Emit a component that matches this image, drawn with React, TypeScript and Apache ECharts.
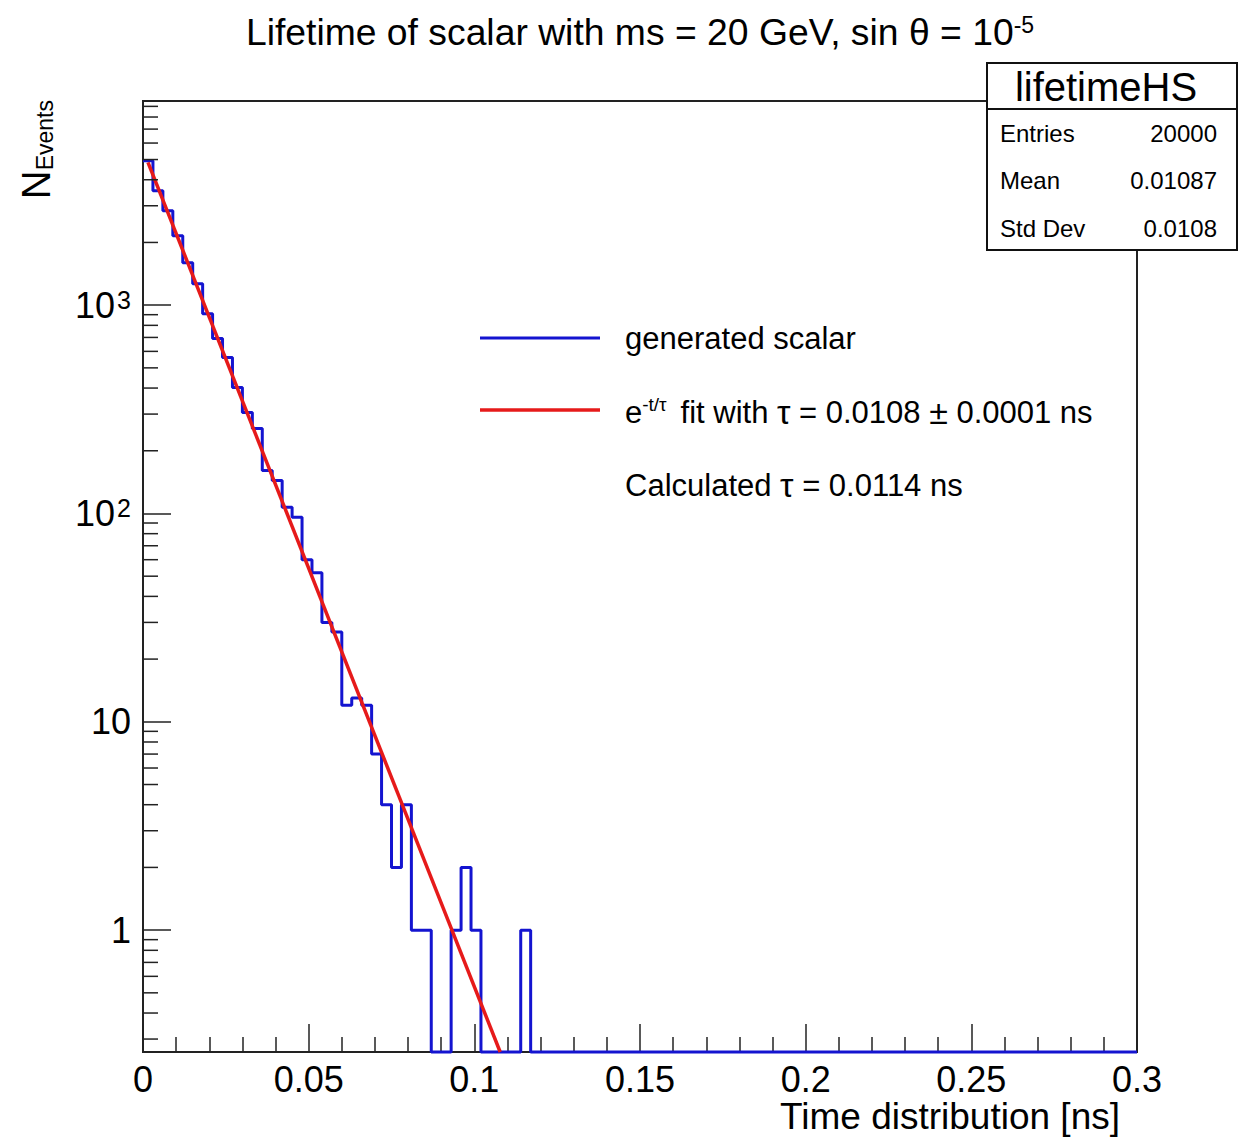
import React, { useEffect, useRef } from 'react';
import * as echarts from 'echarts';

// ---------------- data ----------------
const binWidth = 0.003; // 100 bins over [0, 0.3] ns
const counts = [
  4930, 3540, 2840, 2155, 1600, 1268, 910, 691, 560, 402,
  305, 256, 161, 144, 107, 96, 60, 52, 30, 27,
  12, 13, 12, 7, 4, 2, 4, 1, 1, 0,
  0, 1, 2, 1, 0, 0, 0, 0, 1, 0,
  0, 0, 0, 0, 0, 0, 0, 0, 0, 0,
  0, 0, 0, 0, 0, 0, 0, 0, 0, 0,
  0, 0, 0, 0, 0, 0, 0, 0, 0, 0,
  0, 0, 0, 0, 0, 0, 0, 0, 0, 0,
  0, 0, 0, 0, 0, 0, 0, 0, 0, 0,
  0, 0, 0, 0, 0, 0, 0, 0, 0, 0,
];
// exponential fit (straight on the log axis): end points
const fitT = [0.0015, 0.1078];
const fitN = [4850, 0.26];

const xMin = 0;
const xMax = 0.3;
const xInterval = 0.05;
const yMin = 0.26;
const yMax = 9550;

const statsTitle = 'lifetimeHS';
const statsLabels = ['Entries', 'Mean', 'Std Dev'];
const statsValues = ['20000', '0.01087', '0.0108'];

const FONT = '"Liberation Sans", Arial, Helvetica, sans-serif';
const BLUE = '#1414d0';
const RED = '#e61a1a';

export default function App() {
  const ref = useRef<HTMLDivElement>(null);

  useEffect(() => {
    const chart = echarts.init(ref.current as HTMLDivElement, null, { renderer: 'svg' });

    const histData: number[][] = counts.map((c, i) => [i * binWidth, c > 0 ? c : yMin]);
    const last = counts[counts.length - 1];
    histData.push([counts.length * binWidth, last > 0 ? last : yMin]);

    const fitData = fitT.map((t, i) => [t, fitN[i]]);

    const tok = (size: number, extra: any = {}) => ({
      fontSize: size,
      fontFamily: FONT,
      fill: '#000',
      color: '#000',
      ...extra,
    });

    const baseGraphic: any[] = [
      // title
      {
        type: 'text',
        x: 640,
        y: 32,
        z: 10,
        style: {
          text: '{m|Lifetime of scalar with ms = 20 GeV, sin θ = 10}{s|-5}',
          rich: { m: tok(37.3), s: tok(23, { verticalAlign: 'top' }) },
          align: 'center',
          textAlign: 'center',
          verticalAlign: 'middle',
          textVerticalAlign: 'middle',
        },
      },
      // y axis title
      {
        type: 'text',
        x: 36,
        y: 100,
        rotation: Math.PI / 2,
        z: 10,
        style: {
          text: '{m|N}{s|Events}',
          rich: { m: tok(40), s: tok(23, { verticalAlign: 'bottom' }) },
          align: 'right',
          textAlign: 'right',
          verticalAlign: 'middle',
          textVerticalAlign: 'middle',
        },
      },
      // x axis title
      {
        type: 'text',
        x: 1120,
        y: 1116,
        z: 10,
        style: {
          text: 'Time distribution [ns]',
          fontSize: 37,
          fontFamily: FONT,
          fill: '#000',
          align: 'right',
          textAlign: 'right',
          verticalAlign: 'middle',
          textVerticalAlign: 'middle',
        },
      },
      // stats box
      {
        type: 'rect',
        z: 20,
        shape: { x: 987, y: 63, width: 250, height: 187 },
        style: { fill: '#fff', stroke: '#111', lineWidth: 2 },
      },
      {
        type: 'line',
        z: 21,
        shape: { x1: 987, y1: 109, x2: 1237, y2: 109 },
        style: { stroke: '#111', lineWidth: 2 },
      },
      {
        type: 'text',
        x: 1106,
        y: 87,
        z: 22,
        style: {
          text: statsTitle,
          fontSize: 40,
          fontFamily: FONT,
          fill: '#000',
          align: 'center',
          textAlign: 'center',
          verticalAlign: 'middle',
          textVerticalAlign: 'middle',
        },
      },
      ...statsLabels.map((l, i) => ({
        type: 'text',
        x: 1000,
        y: 133 + i * 47.5,
        z: 22,
        style: {
          text: l,
          fontSize: 24,
          fontFamily: FONT,
          fill: '#000',
          align: 'left',
          textAlign: 'left',
          verticalAlign: 'middle',
          textVerticalAlign: 'middle',
        },
      })),
      ...statsValues.map((v, i) => ({
        type: 'text',
        x: 1217,
        y: 133 + i * 47.5,
        z: 22,
        style: {
          text: v,
          fontSize: 24,
          fontFamily: FONT,
          fill: '#000',
          align: 'right',
          textAlign: 'right',
          verticalAlign: 'middle',
          textVerticalAlign: 'middle',
        },
      })),
      // legend
      {
        type: 'line',
        z: 10,
        shape: { x1: 480, y1: 338, x2: 600, y2: 338 },
        style: { stroke: BLUE, lineWidth: 3 },
      },
      {
        type: 'text',
        x: 625,
        y: 338,
        z: 10,
        style: {
          text: 'generated scalar',
          fontSize: 31,
          fontFamily: FONT,
          fill: '#000',
          align: 'left',
          textAlign: 'left',
          verticalAlign: 'middle',
          textVerticalAlign: 'middle',
        },
      },
      {
        type: 'line',
        z: 10,
        shape: { x1: 480, y1: 410, x2: 600, y2: 410 },
        style: { stroke: RED, lineWidth: 3.5 },
      },
      {
        type: 'text',
        x: 625,
        y: 412,
        z: 10,
        style: {
          text: '{m|e}{s|-t/τ }{m| fit with }{g|τ}{m| = 0.0108 }{g|±}{m| 0.0001 ns}',
          rich: { m: tok(31), s: tok(19, { verticalAlign: 'top' }), g: tok(34) },
          align: 'left',
          textAlign: 'left',
          verticalAlign: 'middle',
          textVerticalAlign: 'middle',
        },
      },
      {
        type: 'text',
        x: 625,
        y: 485,
        z: 10,
        style: {
          text: '{m|Calculated }{g|τ}{m| = 0.0114 ns}',
          rich: { m: tok(31), g: tok(34) },
          align: 'left',
          textAlign: 'left',
          verticalAlign: 'middle',
          textVerticalAlign: 'middle',
        },
      },
    ];

    const option: any = {
      animation: false,
      backgroundColor: '#fff',
      grid: {
        left: 143,
        top: 101,
        width: 994,
        height: 951,
        show: true,
        borderColor: '#222',
        borderWidth: 2,
        backgroundColor: 'transparent',
      },
      xAxis: {
        type: 'value',
        min: xMin,
        max: xMax,
        interval: xInterval,
        axisLine: { show: true, lineStyle: { color: '#222', width: 2 } },
        axisTick: { show: true, inside: true, length: 28, lineStyle: { color: '#222', width: 1.5 } },
        minorTick: { show: true, splitNumber: 5, length: 15, lineStyle: { color: '#222', width: 1.5 } },
        splitLine: { show: false },
        axisLabel: {
          fontSize: 36,
          fontFamily: FONT,
          color: '#000',
          margin: 9,
          showMinLabel: true,
          showMaxLabel: true,
        },
      },
      yAxis: {
        type: 'log',
        logBase: 10,
        min: yMin,
        max: yMax,
        axisLine: { show: true, lineStyle: { color: '#222', width: 2 } },
        axisTick: { show: true, inside: true, length: 28, lineStyle: { color: '#222', width: 1.5 } },
        splitLine: { show: false },
        axisLabel: {
          fontSize: 36,
          fontFamily: FONT,
          color: '#000',
          margin: 12,
          formatter: (v: number) => {
            const l = Math.log10(v);
            const r = Math.round(l);
            if (Math.abs(l - r) > 1e-6) return '';
            if (r === 0) return '1';
            if (r === 1) return '10';
            return '{b|10}{s|' + r + '}';
          },
          rich: {
            b: { fontSize: 36, fontFamily: FONT, color: '#000' },
            s: { fontSize: 25, fontFamily: FONT, color: '#000', verticalAlign: 'top', padding: [0, 0, 0, 2] },
          },
        },
      },
      series: [
        {
          name: 'generated scalar',
          type: 'line',
          step: 'end',
          symbol: 'none',
          clip: false,
          data: histData,
          lineStyle: { color: BLUE, width: 3 },
          z: 3,
        },
        {
          name: 'fit',
          type: 'line',
          symbol: 'none',
          clip: false,
          data: fitData,
          lineStyle: { color: RED, width: 3.5 },
          z: 4,
        },
      ],
      graphic: baseGraphic,
    };

    chart.setOption(option);

    // log-axis minor ticks (2..9 x 10^n), positioned through the axis scale
    const x0 = chart.convertToPixel({ xAxisIndex: 0 }, xMin) as number;
    const minor: any[] = [];
    for (let d = -1; d <= 3; d++) {
      for (let k = 2; k <= 9; k++) {
        const v = k * Math.pow(10, d);
        if (v <= yMin || v >= yMax) continue;
        const y = chart.convertToPixel({ yAxisIndex: 0 }, v) as number;
        minor.push({
          type: 'line',
          z: 5,
          shape: { x1: x0, y1: y, x2: x0 + 15, y2: y },
          style: { stroke: '#222', lineWidth: 1.5 },
        });
      }
    }
    chart.setOption({ graphic: [...baseGraphic, ...minor] });

    return () => chart.dispose();
  }, []);

  return (
    <div
      ref={ref}
      style={{ position: 'absolute', left: 0, top: 0, width: 1250, height: 1138, background: '#fff' }}
    />
  );
}
